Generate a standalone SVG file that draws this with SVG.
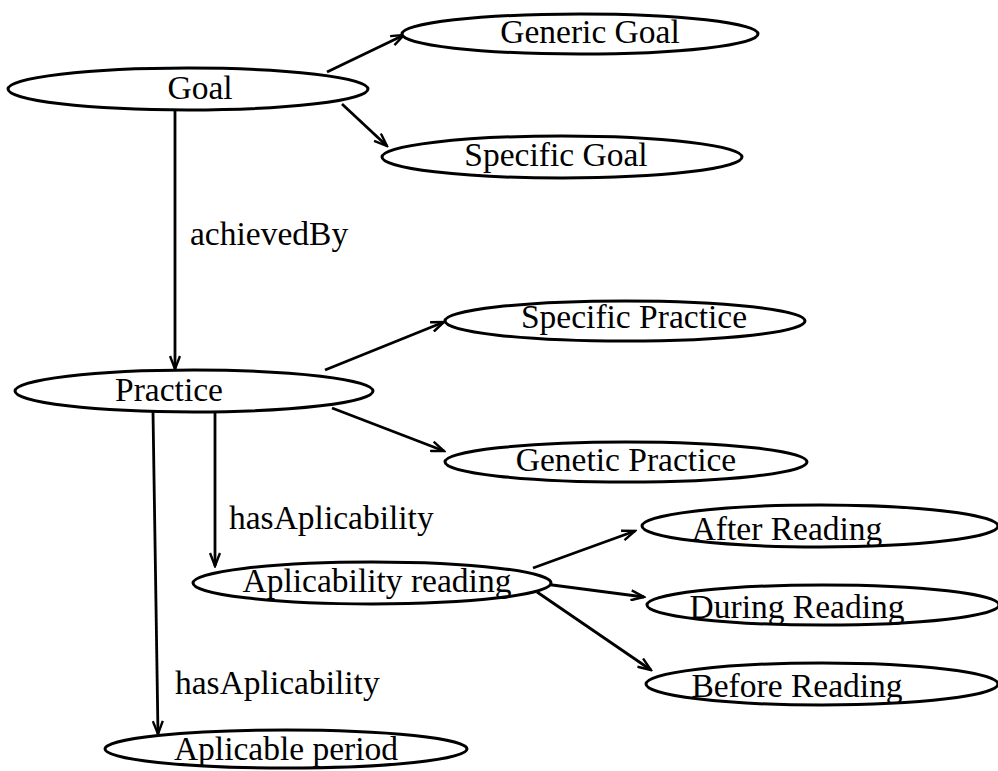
<svg xmlns="http://www.w3.org/2000/svg" width="998" height="771" viewBox="0 0 998 771">
<style>
.node ellipse{fill:#fff;stroke:#000;stroke-width:3}
text{font-family:"Liberation Serif","Times New Roman",serif;font-size:33.5px;fill:#000}
.node text{text-anchor:middle}
#edges line{stroke:#000;stroke-width:2.8;fill:none}
</style>
<defs>
<marker id="arr" markerWidth="16" markerHeight="12" refX="14" refY="6" orient="auto" markerUnits="userSpaceOnUse">
<path d="M1,1 L14,6 L1,11" fill="none" stroke="#000" stroke-width="2.4"/>
</marker>
</defs>
<rect width="998" height="771" fill="#fff"/>
<g id="edges">
<line x1="327" y1="72" x2="404" y2="35" marker-end="url(#arr)"/>
<line x1="342" y1="104" x2="387" y2="146" marker-end="url(#arr)"/>
<line x1="175" y1="110" x2="175" y2="369" marker-end="url(#arr)"/>
<line x1="325" y1="370" x2="444" y2="322" marker-end="url(#arr)"/>
<line x1="332" y1="408" x2="444" y2="451" marker-end="url(#arr)"/>
<line x1="215" y1="412" x2="215" y2="566" marker-end="url(#arr)"/>
<line x1="153" y1="412" x2="158" y2="734" marker-end="url(#arr)"/>
<line x1="533" y1="568" x2="635" y2="531" marker-end="url(#arr)"/>
<line x1="537" y1="583" x2="644" y2="597" marker-end="url(#arr)"/>
<line x1="537" y1="592" x2="651" y2="670" marker-end="url(#arr)"/>
<text x="190" y="245">achievedBy</text>
<text x="229" y="529">hasAplicability</text>
<text x="175" y="694">hasAplicability</text>
</g>
<g id="goal" class="node"><ellipse cx="188" cy="89" rx="180" ry="21"/><text x="200" y="99">Goal</text></g>
<g id="generic-goal" class="node"><ellipse cx="580" cy="34" rx="178" ry="20"/><text x="590" y="43">Generic Goal</text></g>
<g id="specific-goal" class="node"><ellipse cx="562" cy="157" rx="180" ry="21"/><text x="556" y="166">Specific Goal</text></g>
<g id="practice" class="node"><ellipse cx="194" cy="391" rx="179" ry="21"/><text x="169" y="401">Practice</text></g>
<g id="specific-practice" class="node"><ellipse cx="625" cy="321" rx="180" ry="20"/><text x="634" y="328">Specific Practice</text></g>
<g id="genetic-practice" class="node"><ellipse cx="626" cy="462" rx="181" ry="20"/><text x="626" y="471">Genetic Practice</text></g>
<g id="aplicability-reading" class="node"><ellipse cx="372" cy="583" rx="179" ry="21"/><text x="377" y="592">Aplicability reading</text></g>
<g id="after-reading" class="node"><ellipse cx="820" cy="526" rx="178" ry="21"/><text x="787" y="540">After Reading</text></g>
<g id="during-reading" class="node"><ellipse cx="823" cy="605" rx="176" ry="20"/><text x="797" y="618">During Reading</text></g>
<g id="before-reading" class="node"><ellipse cx="822" cy="684" rx="176" ry="21"/><text x="797" y="697">Before Reading</text></g>
<g id="aplicable-period" class="node"><ellipse cx="286" cy="749" rx="181" ry="19"/><text x="286" y="760">Aplicable period</text></g>
</svg>
